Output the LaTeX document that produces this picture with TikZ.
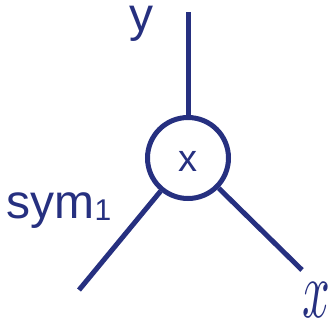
\documentclass[tikz,border=0pt]{standalone}
\usepackage{fontspec}
\setmainfont{Liberation Sans}
\newfontfamily\lmmath{Latin Modern Math}
\definecolor{navy}{RGB}{38,48,128}
\begin{document}
\begin{tikzpicture}[x=1pt,y=-1pt,
  wire/.style={draw=navy,line width=5pt},
  lbl/.style={text=navy,inner sep=0pt}]
\useasboundingbox (0,0) rectangle (335,322);
\node[circle,draw=navy,line width=5pt,minimum size=81pt,inner sep=0pt,fill=white] (c) at (188,158) {};
\coordinate (top) at (188,12);
\coordinate (ll) at (79,290);
\coordinate (lr) at (302,270);
\draw[wire] (top) -- (c.north);
\draw[wire] (c) -- (ll);
\draw[wire] (c) -- (lr);
\node[lbl,anchor=base] (cx) at (188,171) {\fontsize{38}{38}\selectfont x};
\node[lbl,anchor=base] (ylab) at (141,31) {\fontsize{48}{48}\selectfont y};
\node[lbl,anchor=base west] (sym) at (6.5,218) {\fontsize{48}{48}\selectfont sym{\fontsize{30}{30}\selectfont\raisebox{-2pt}{1}}};
\node[lbl,anchor=base] (xlab) at (316,317) {\scalebox{0.6}[1]{\lmmath\fontsize{81}{81}\selectfont 𝑥}};
\end{tikzpicture}
\end{document}
